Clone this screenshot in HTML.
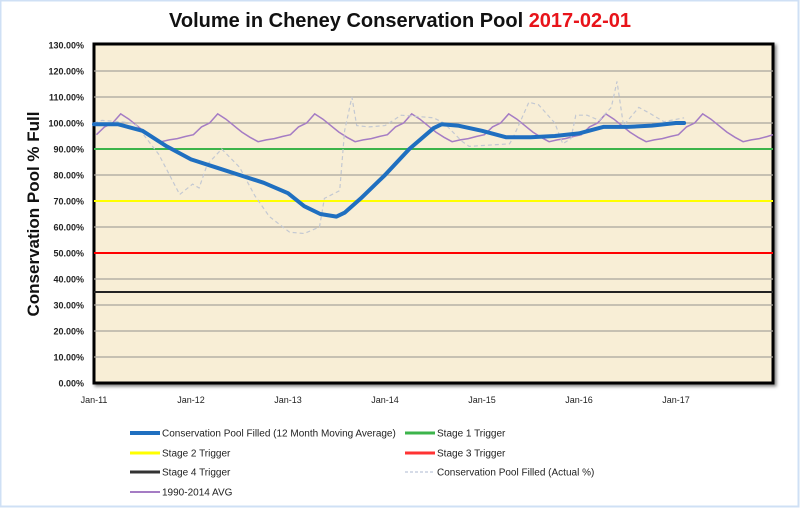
<!DOCTYPE html>
<html><head><meta charset="utf-8"><style>
html,body{margin:0;padding:0;background:#fff}
body{width:800px;height:508px;overflow:hidden;font-family:"Liberation Sans",sans-serif}
</style></head><body>
<svg id="chart" width="800" height="508" viewBox="0 0 800 508" xmlns="http://www.w3.org/2000/svg">
<defs><filter id="sh" x="-5%" y="-5%" width="110%" height="110%"><feDropShadow dx="2" dy="2" stdDeviation="1.5" flood-color="#000" flood-opacity="0.5"/></filter></defs>
<rect x="0.5" y="0.5" width="798" height="506" fill="#fff" stroke="#cfe0f5" stroke-width="2"/>
<text x="400" y="27" text-anchor="middle" font-size="20" font-weight="bold" fill="#111">Volume in Cheney Conservation Pool <tspan fill="#e8141a">2017-02-01</tspan></text>
<rect x="94" y="44" width="679" height="339" fill="#f8eed6" stroke="#000" stroke-width="3" filter="url(#sh)"/>
<g id="grid"></g>
<g id="series"></g>
<g id="axes"></g>
<text transform="translate(39,214) rotate(-90)" text-anchor="middle" font-size="17" font-weight="bold" fill="#111">Conservation Pool % Full</text>
<g id="legend" font-size="10" fill="#222"></g>
</svg>
<script>
const yTicks=[0,10,20,30,40,50,60,70,80,90,100,110,120,130];
const xTickMonths=[0,12,24,36,48,60,72];
const xTickLabels=["Jan-11","Jan-12","Jan-13","Jan-14","Jan-15","Jan-16","Jan-17"];
const triggerNames=["Stage 1 Trigger","Stage 2 Trigger","Stage 3 Trigger","Stage 4 Trigger"];
const triggerValues=[90,70,50,35];
const triggerColors=["#3cb44b","#ffff00","#ff0000","#222222"];
const maMonths=[0,3,6,9,12,15,18,21,24,26,28,30,31,33,36,39,42,43,45,48,51,54,57,60,63,66,69,72,73];
const maValues=[99.5,99.5,97,91,86,83,80,77,73,68,65,64,65.5,71,80,90,98,99.5,99,97,94.5,94.5,95,96,98.5,98.5,99,100,100];
const actMonths=[0,1,3,5,6,8,10.6,12.2,13,14,15.8,18,19.9,21.7,24.2,26,27.9,28.5,30.4,31,31.9,32.5,34,36,38,42,43.3,45.5,46.4,51.4,51.8,53.8,55,57,58,59,59.6,61,62.5,64,64.7,65.5,67.4,68.6,70.5,73];
const actValues=[100,101,100.5,100,96,88,72.5,76.5,75,84,90,83,72,64,58,57.5,60,71,74,97,110,99,98.5,99,103,102,100,93,91,92,94,108,107,100,92,94,103,103,101,106,116,99,106,104,100.5,102];
const avgProfile=[95.5,98.5,100,103.5,101.5,99,96.5,94.5,92.8,93.5,94,94.8];
const NS="http://www.w3.org/2000/svg";
const X0=94,X1=773,Y0=383,Y1=45,MMAX=84,VMAX=130;
const xs=m=>X0+(X1-X0)*m/MMAX;
const ys=v=>Y0-(Y0-Y1)*v/VMAX;
function mk(tag,attrs,parent){const e=document.createElementNS(NS,tag);for(const k in attrs)e.setAttribute(k,attrs[k]);parent.appendChild(e);return e;}
const grid=document.getElementById('grid'),axes=document.getElementById('axes'),ser=document.getElementById('series'),leg=document.getElementById('legend');
yTicks.forEach(v=>{
 if(v>0&&v<130){const l=mk('line',{x1:X0,x2:X1,y1:ys(v),y2:ys(v),stroke:'#a8a49c','stroke-width':1.2},grid);
 
 }
 const t=mk('text',{x:84,y:ys(v)+3.5,'text-anchor':'end','font-size':9,'font-weight':'bold',fill:'#222'},axes);
 t.textContent=v.toFixed(2)+'%';
 
 
});
xTickMonths.forEach((m,i)=>{
 const t=mk('text',{x:xs(m),y:403,'text-anchor':'middle','font-size':9,fill:'#222'},axes);
 t.textContent=xTickLabels[i];
 
 
});
triggerValues.forEach((v,i)=>{
 const l=mk('line',{x1:X0,x2:X1,y1:ys(v),y2:ys(v),stroke:triggerColors[i],'stroke-width':2},ser);
 
 
});
function path(ms,vs){return ms.map((m,i)=>(i?'L':'M')+xs(m).toFixed(1)+','+ys(vs[i]).toFixed(1)).join(' ');}
const avgM=[],avgV=[];
for(let m=0;m<=MMAX;m++){avgM.push(Math.min(m+0.3,MMAX));avgV.push(avgProfile[m%12]);}
const pa=mk('path',{d:path(avgM,avgV),fill:'none',stroke:'#a57cc4','stroke-width':1.5},ser);


const pd=mk('path',{d:path(actMonths,actValues),fill:'none',stroke:'#c3c8d2','stroke-width':1.2,'stroke-dasharray':'4,3'},ser);


const pm=mk('path',{d:path(maMonths,maValues),fill:'none',stroke:'#1f6fc0','stroke-width':4,'stroke-linejoin':'round','stroke-linecap':'round'},ser);


const legItems=[
 ["Conservation Pool Filled (12 Month Moving Average)","#1f6fc0",4,null,130,433],
 ["Stage 1 Trigger","#3cb44b",3,null,405,433],
 ["Stage 2 Trigger","#ffff00",3,null,130,453],
 ["Stage 3 Trigger","#ff3333",3,null,405,453],
 ["Stage 4 Trigger","#333",3,null,130,472],
 ["Conservation Pool Filled (Actual %)","#c8d0e0",1.5,"3,2",405,472],
 ["1990-2014 AVG","#a57cc4",2,null,130,492]];
legItems.forEach(it=>{
 const g=mk('g',{},leg);
 
 
 const a={x1:it[4],x2:it[4]+30,y1:it[5],y2:it[5],stroke:it[1],'stroke-width':it[2]};
 if(it[3])a['stroke-dasharray']=it[3];
 mk('line',a,g);
 const t=mk('text',{x:it[4]+32,y:it[5]+3.5,'font-size':10,fill:'#222'},g);
 t.textContent=it[0];
});
</script>
</body></html>
